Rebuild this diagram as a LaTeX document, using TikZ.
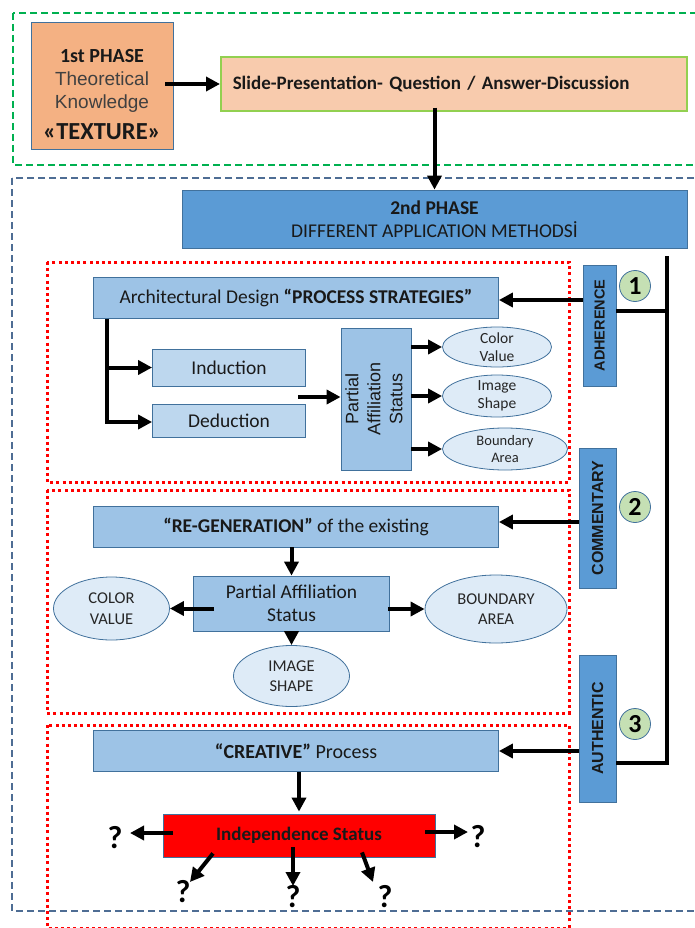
\documentclass[tikz,border=0pt]{standalone}
\usepackage{fontspec}
\setmainfont{Carlito}
\newfontfamily\arialfont{Liberation Sans}
\usetikzlibrary{arrows.meta,shapes.geometric,positioning}

\definecolor{phaseorange}{HTML}{F4B183}
\definecolor{slideorange}{HTML}{F8CBAD}
\definecolor{slidegreen}{HTML}{92D050}
\definecolor{boxline}{HTML}{41719C}
\definecolor{darkblue}{HTML}{5B9BD5}
\definecolor{midblue}{HTML}{9DC3E6}
\definecolor{lightblue}{HTML}{BDD7EE}
\definecolor{paleblue}{HTML}{DEEBF7}
\definecolor{numgreen}{HTML}{C5E0B4}
\definecolor{framegreen}{HTML}{00B050}
\definecolor{frameblue}{HTML}{4E6D94}
\definecolor{textgrey}{HTML}{404040}

\begin{document}
\begin{tikzpicture}[
        x=1pt, y=-1pt,
        >={Triangle[length=14pt,width=14pt]},
        box/.style={draw=boxline, line width=0.8pt, inner sep=2pt, align=center, text=black!90},
        oval/.style={ellipse, draw=boxline, line width=0.8pt, fill=paleblue, inner sep=-3pt, align=center, text=black!85},
        num/.style={circle, draw=boxline, line width=0.8pt, fill=numgreen, minimum size=31, inner sep=0pt, font=\bfseries\fontsize{26}{26}\selectfont},
        side/.style={box, fill=darkblue, font=\arialfont\bfseries\fontsize{16}{16}\selectfont},
        conn/.style={line width=4pt},
        qm/.style={inner sep=0pt, font=\bfseries\fontsize{32}{32}\selectfont},
        frame/.style={line width=2.6pt, dash pattern=on 7pt off 4pt},
        redframe/.style={draw=red, line width=3pt, dash pattern=on 3pt off 3.2pt}
        ]
        \useasboundingbox (0,0) rectangle (694,928);

        % frames
        \draw[frame, framegreen] (13,13) rectangle (720,165);
        \draw[frame, frameblue] (12,178) rectangle (720,911);
        \draw[redframe] (47,262) rectangle (569,482);
        \draw[redframe] (47,490) rectangle (569,713);
        \draw[redframe] (47,725) rectangle (569,928);

        % first phase
        \node[box, fill=phaseorange, minimum width=142, minimum height=127,
              font=\fontsize{20}{23}\selectfont] (phase1) at (102,85.5)
              {\rule{0pt}{31pt}\textbf{1st PHASE}\\
               {\arialfont\fontsize{19}{23}\selectfont\color{textgrey}Theoretical}\\
               {\arialfont\fontsize{19}{23}\selectfont\color{textgrey}Knowledge}\\[8pt]
               {\bfseries\fontsize{24.5}{25}\selectfont «TEXTURE»}};
        \node[box, fill=slideorange, draw=slidegreen, line width=1.5pt, anchor=west,
              minimum height=54, inner xsep=12pt, text width=442pt, align=left,
              font=\bfseries\fontsize{19}{20}\selectfont] (slide) at (220,84)
              {Slide-Presentation- Question / Answer-Discussion};

        % second phase
        \node[box, fill=darkblue, minimum width=505, minimum height=58,
              font=\fontsize{19.5}{23}\selectfont] (phase2) at (434.5,219)
              {\textbf{2nd PHASE}\\DIFFERENT APPLICATION METHODSİ};

        % side labels
        \node[side, minimum width=33, minimum height=121, font=\arialfont\bfseries\fontsize{14.5}{15}\selectfont]
              (adh) at (599.5,325.5) {\rotatebox{90}{ADHERENCE}};
        \node[side, minimum width=37, minimum height=140] (comm) at (597.5,518)
              {\rotatebox{90}{COMMENTARY}};
        \node[side, minimum width=37, minimum height=147] (auth) at (597.5,728.5)
              {\rotatebox{90}{AUTHENTIC}};
        \node[num] (n1) at (635,286) {1};
        \node[num] (n2) at (635,507) {2};
        \node[num] (n3) at (635,724) {3};

        % adherence block
        \node[box, fill=midblue, minimum width=405, minimum height=41,
              font=\fontsize{19.5}{21}\selectfont] (arch) at (296,298)
              {Architectural Design \textbf{“PROCESS STRATEGIES”}};
        \node[box, fill=lightblue, minimum width=153, minimum height=37,
              font=\fontsize{19.5}{21}\selectfont] (induct) at (229,367.5) {Induction};
        \node[box, fill=lightblue, minimum width=153, minimum height=33,
              font=\fontsize{19.5}{21}\selectfont] (deduct) at (229,420.5) {Deduction};
        \node[box, fill=midblue, minimum width=70, minimum height=142,
              font=\arialfont\fontsize{18}{22}\selectfont] (part1) at (376,399)
              {\rotatebox{90}{\begin{tabular}{@{}c@{}}Partial\\Affiliation\\Status\end{tabular}}};
        \node[oval, minimum width=109, minimum height=40,
              font=\fontsize{15.5}{17.5}\selectfont] (colv1) at (497,347) {Color\\Value};
        \node[oval, minimum width=109, minimum height=42,
              font=\fontsize{15.5}{17.5}\selectfont] (imgs1) at (497,396) {Image\\Shape};
        \node[oval, minimum width=125, minimum height=42,
              font=\fontsize{14.5}{17.5}\selectfont] (bnda1) at (505,449) {Boundary\\Area};
        \coordinate (merge) at (298,397);

        % commentary block
        \node[box, fill=midblue, minimum width=405, minimum height=41,
              font=\fontsize{19.5}{21}\selectfont] (regen) at (296,526.5)
              {\textbf{“RE-GENERATION”} of the existing};
        \node[box, fill=midblue, minimum width=196, minimum height=55,
              font=\fontsize{19.5}{23}\selectfont] (part2) at (291.5,603.5)
              {Partial Affiliation\\Status};
        \node[oval, minimum width=116, minimum height=63,
              font=\fontsize{16.5}{20.5}\selectfont] (colv2) at (111.5,608.5) {COLOR\\VALUE};
        \node[oval, minimum width=142, minimum height=68,
              font=\fontsize{16.5}{20.5}\selectfont] (bnda2) at (496,609) {BOUNDARY\\AREA};
        \node[oval, minimum width=116, minimum height=61,
              font=\fontsize{16.5}{20.5}\selectfont] (imgs2) at (291.5,676) {IMAGE\\SHAPE};

        % authentic block
        \node[box, fill=midblue, minimum width=405, minimum height=41,
              font=\fontsize{20}{21}\selectfont] (creat) at (296,751)
              {\textbf{“CREATIVE”} Process};
        \node[box, fill=red, minimum width=272, minimum height=43,
              font=\bfseries\fontsize{19}{20}\selectfont] (indep) at (299,835.5)
              {Independence Status};
        \node[qm] (q1) at (115,838) {?};
        \node[qm] (q2) at (478,837) {?};
        \node[qm] (q3) at (183,892) {?};
        \node[qm] (q4) at (293,897) {?};
        \node[qm] (q5) at (385,897) {?};

        % trunk on the right
        \coordinate (rtop) at (667,256);
        \coordinate (rbot) at (667,763);
        \coordinate (radh) at (667,311);
        \draw[line width=3.2pt] (rtop) -- (rbot) -- (auth.east |- rbot);
        \draw[line width=3.2pt] (adh.east |- radh) -- (radh);

        % rows of the side arrows
        \coordinate (adhrow) at (0,300);
        \coordinate (commrow) at (0,522);
        \coordinate (q4top) at (indep.south -| q4);

        % arrows
        \draw[conn, ->] ([xshift=-8pt]phase1.east |- slide.west) -- (slide.west);
        \draw[conn, ->] ([yshift=4pt]slide.south -| phase2.north) -- (phase2.north);
        \draw[conn, ->] (adh.west |- adhrow) -- (arch.east |- adhrow);
        \draw[conn, ->] (comm.west |- commrow) -- (regen.east |- commrow);
        \draw[conn, ->] (auth.west |- creat.east) -- (creat.east);

        \draw[conn, ->] ([xshift=14pt]arch.south west) |- (induct.west);
        \draw[conn, ->] ([xshift=14pt]arch.south west) |- ([yshift=-1.5pt]deduct.west);
        \draw[conn, ->] (merge) -- (merge -| part1.west);
        \draw[conn, ->] (colv1.west -| part1.east) -- (colv1.west);
        \draw[conn, ->] (imgs1.west -| part1.east) -- (imgs1.west);
        \draw[conn, ->] (bnda1.west -| part1.east) -- (bnda1.west);

        \draw[conn, ->] (regen.south -| part2.north) -- (part2.north);
        \draw[conn, ->] ([xshift=21pt]part2.west |- colv2.east) -- (colv2.east);
        \draw[conn, ->] ([xshift=-2pt]part2.east |- bnda2.west) -- (bnda2.west);
        \draw[conn, ->] (part2.south) -- (imgs2.north);

        \draw[conn, ->] (creat.south -| indep.north) -- ([yshift=2pt]indep.north);
        \draw[conn, ->] ([shift={(10,-2.5)}]indep.west) -- ([shift={(15,-5)}]q1.center);
        \draw[conn, ->] ([shift={(-10,-3.5)}]indep.east) -- ([shift={(-10,-5)}]q2.center);
        \draw[conn, ->] ([shift={(-86,-4)}]indep.south) -- ([shift={(7,-10)}]q3.center);
        \draw[conn, ->] ([yshift=10pt]q4top) -- ([yshift=11pt]q4.center);
        \draw[conn, ->] ([shift={(63,-5)}]indep.south) -- ([shift={(-12,-15)}]q5.center);
\end{tikzpicture}
\end{document}
